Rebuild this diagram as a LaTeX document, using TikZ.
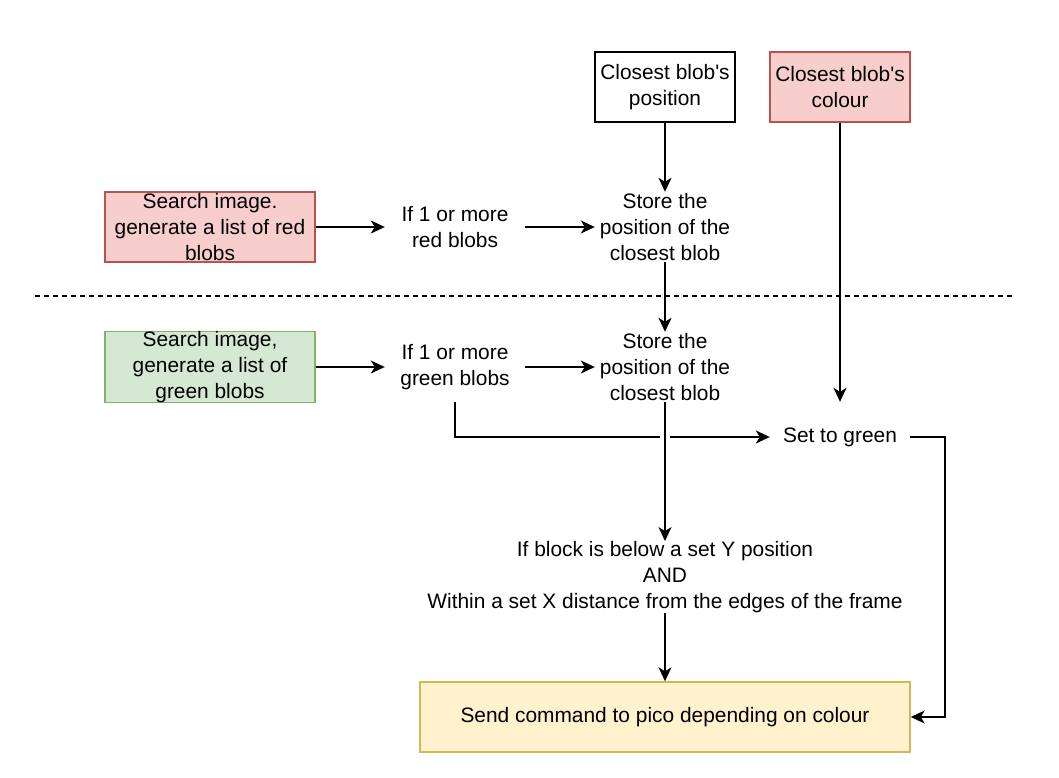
\documentclass[tikz,border=0pt]{standalone}
\usepackage{fontspec}
\setmainfont{Liberation Sans}
\usetikzlibrary{arrows.meta}
\definecolor{redfill}{HTML}{F8CECC}
\definecolor{redline}{HTML}{B85450}
\definecolor{greenfill}{HTML}{D5E8D4}
\definecolor{greenline}{HTML}{82B366}
\definecolor{yellowfill}{HTML}{FFF2CC}
\definecolor{yellowline}{HTML}{D6B656}
\begin{document}
\begin{tikzpicture}[x=1pt,y=-1pt,
  font=\fontsize{20.9}{26}\selectfont,
  plain/.style={minimum width=140pt, minimum height=70pt, align=center, inner sep=0pt},
  box/.style={plain, draw, line width=1.4pt},
  arr/.style={-{Stealth[length=14pt,width=13pt,inset=4pt]}, line width=1.5pt},
  conn/.style={line width=1.5pt}]
\useasboundingbox (0,0) rectangle (1059,778);
\fill[white] (0,0) rectangle (1059,778);

\node[box] (pos) at (665,87) {Closest blob\textquotesingle s\\position};
\node[box, fill=redfill, draw=redline] (col) at (840,87) {Closest blob\textquotesingle s\\colour};

\node[box, fill=redfill, draw=redline, minimum width=210pt] (redbox) at (210,227) {Search image.\\generate a list of red\\blobs};
\node[plain] (ifred) at (455,227) {If 1 or more\\red blobs};
\node[plain] (storered) at (665,227) {Store the\\position of the\\closest blob};

\coordinate (dl) at (35,296);
\coordinate (dr) at (1015,296);
\draw[conn, dash pattern=on 5pt off 4pt] (dl) -- (dr);

\node[box, fill=greenfill, draw=greenline, minimum width=210pt] (greenbox) at (210,367) {Search image,\\generate a list of\\green blobs};
\node[plain] (ifgreen) at (455,367) {If 1 or more\\green blobs};
\node[plain] (storegreen) at (665,367) {Store the\\position of the\\closest blob};

\node[plain] (setgreen) at (840,437) {Set to green};
\node[plain, minimum width=490pt] (cond) at (665,577) {If block is below a set Y position\\AND\\Within a set X distance from the edges of the frame};
\node[box, fill=yellowfill, draw=yellowline, minimum width=490pt] (send) at (665,717) {Send command to pico depending on colour};

\draw[arr] (redbox) -- (ifred);
\draw[arr] (ifred) -- (storered);
\draw[arr] (pos) -- (storered);
\draw[arr] (storered) -- (storegreen);
\draw[arr] (greenbox) -- (ifgreen);
\draw[arr] (ifgreen) -- (storegreen);
\draw[arr] (col) -- (setgreen);

\coordinate (jl) at ([xshift=-5pt]storegreen.south |- setgreen.west);
\coordinate (jr) at ([xshift=5pt]storegreen.south |- setgreen.west);
\draw[conn] (ifgreen.south) |- (jl);
\draw[arr] (jr) -- (setgreen.west);

\draw[arr] (storegreen) -- (cond);
\draw[arr] (cond) -- (send);

\coordinate (turn) at (945,437);
\draw[arr] (setgreen.east) -- (turn) |- (send.east);
\end{tikzpicture}
\end{document}
